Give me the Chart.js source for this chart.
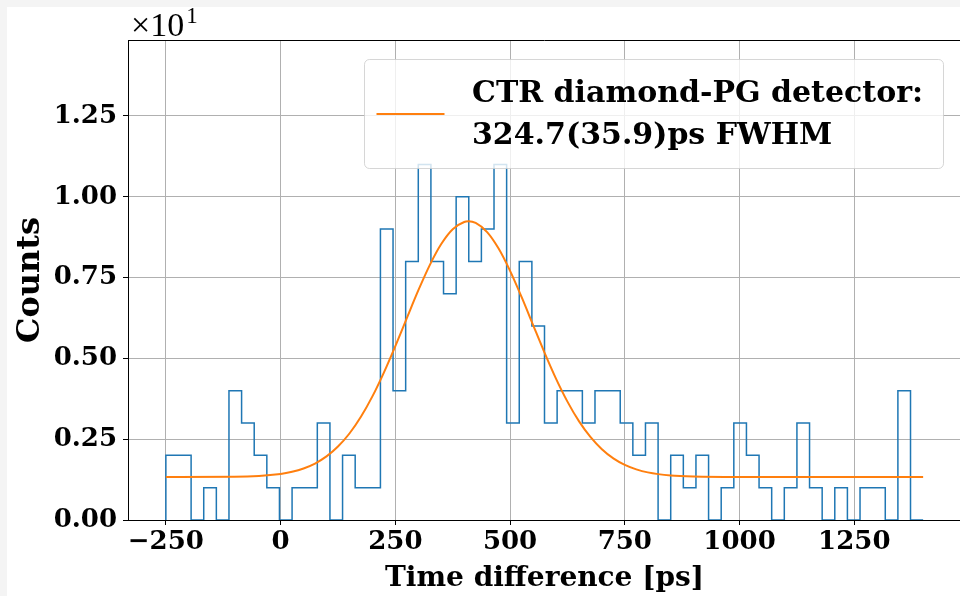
<!DOCTYPE html>
<html>
<head>
<meta charset="utf-8">
<script src="https://cdn.jsdelivr.net/npm/chart.js@4.4.1/dist/chart.umd.min.js"></script>
<style>
  html, body { margin: 0; padding: 0; width: 960px; height: 596px; overflow: hidden; background: #f4f4f4; }
  #wrap { position: absolute; left: 7px; top: 7px; width: 954px; height: 589px; background: #ffffff; }
  canvas { display: block; }
</style>
</head>
<body>
<div id="wrap"><canvas id="c" width="954" height="589"></canvas></div>
<script>
// ---- data ----
const binEdges = [-250, -222.5, -195, -167.5, -140, -112.5, -85, -57.5, -30, -2.5,
  25, 52.5, 80, 107.5, 135, 162.5, 190, 217.5, 245, 272.5,
  300, 327.5, 355, 382.5, 410, 437.5, 465, 492.5, 520, 547.5,
  575, 602.5, 630, 657.5, 685, 712.5, 740, 767.5, 795, 822.5,
  850, 877.5, 905, 932.5, 960, 987.5, 1015, 1042.5, 1070, 1097.5,
  1125, 1152.5, 1180, 1207.5, 1235, 1262.5, 1290, 1317.5, 1345, 1372.5, 1400];
const counts = [2, 2, 0, 1, 0, 4, 3, 2, 1, 0,
  1, 1, 3, 0, 2, 1, 1, 9, 4, 8,
  11, 8, 7, 10, 8, 9, 11, 3, 8, 6,
  3, 4, 4, 3, 4, 4, 3, 2, 3, 0,
  2, 1, 2, 0, 1, 3, 2, 1, 0, 1,
  3, 1, 0, 1, 0, 1, 1, 0, 4, 0];
const fitX = [-250, -100, 0, 25, 50, 75, 100, 125, 150, 175, 200, 225, 250, 275, 300, 325, 350, 375, 400, 409.5,
  425, 450, 475, 500, 525, 550, 575, 600, 625, 650, 675, 700, 725, 750, 775, 800, 850, 900, 1000, 1400];
const fitY = [1.33, 1.339, 1.426, 1.492, 1.595, 1.747, 1.967, 2.272, 2.676, 3.193, 3.825, 4.562, 5.382, 6.245, 7.101, 7.886, 8.537, 8.996, 9.221, 9.24,
  9.190, 8.906, 8.396, 7.707, 6.900, 6.037, 5.180, 4.376, 3.663, 3.058, 2.570, 2.190, 1.907, 1.705, 1.566, 1.473, 1.378, 1.344, 1.331, 1.33];
const xTicks = [-250, 0, 250, 500, 750, 1000, 1250];
const xTickLabels = ['\u2212250', '0', '250', '500', '750', '1000', '1250'];
const yTicks = [0, 2.5, 5, 7.5, 10, 12.5];
const yTickLabels = ['0.00', '0.25', '0.50', '0.75', '1.00', '1.25'];
const legendLines = ['CTR diamond-PG detector:', '324.7(35.9)ps FWHM'];
const xTitle = 'Time difference [ps]';
const yTitle = 'Counts';

// ---- build datasets ----
const histPts = [{ x: binEdges[0], y: 0 }];
for (let i = 0; i < counts.length; i++) {
  histPts.push({ x: binEdges[i], y: counts[i] });
  histPts.push({ x: binEdges[i + 1], y: counts[i] });
}
histPts.push({ x: binEdges[binEdges.length - 1], y: 0 });
const fitPts = fitX.map((x, i) => ({ x: x, y: fitY[i] }));

const BOLD = "'DejaVu Serif', serif";

const extras = {
  id: 'extras',
  afterDraw(chart) {
    const ctx = chart.ctx;
    const a = chart.chartArea;
    ctx.save();
    // top spine
    ctx.strokeStyle = '#000';
    ctx.lineWidth = 1;
    ctx.beginPath();
    ctx.moveTo(a.left, Math.round(a.top) + 0.5);
    ctx.lineTo(a.right, Math.round(a.top) + 0.5);
    ctx.stroke();
    // offset text x10^1
    ctx.fillStyle = '#000';
    ctx.textBaseline = 'alphabetic';
    ctx.textAlign = 'left';
    ctx.font = "34px 'Liberation Serif', serif";
    ctx.fillText('\u00d710', 124, 29);
    const w = ctx.measureText('\u00d710').width;
    ctx.font = "23px 'Liberation Serif', serif";
    ctx.fillText('1', 124 + w + 2, 16);
    // legend
    const lx = 357.5, ly = 52.5, lw = 579, lh = 109;
    ctx.beginPath();
    ctx.roundRect(lx, ly, lw, lh, 5);
    ctx.fillStyle = 'rgba(255,255,255,0.8)';
    ctx.fill();
    ctx.strokeStyle = 'rgba(204,204,204,0.8)';
    ctx.lineWidth = 1;
    ctx.stroke();
    ctx.strokeStyle = '#ff7f0e';
    ctx.lineWidth = 2;
    ctx.beginPath();
    ctx.moveTo(369.5, 107);
    ctx.lineTo(437.5, 107);
    ctx.stroke();
    ctx.fillStyle = '#000';
    ctx.font = "bold 30px " + BOLD;
    ctx.fillText(legendLines[0], 465, 95);
    ctx.fillText(legendLines[1], 465, 137);
    ctx.restore();
  }
};

new Chart(document.getElementById('c'), {
  type: 'scatter',
  data: {
    datasets: [
      { label: 'fit', data: fitPts, showLine: true, borderColor: '#ff7f0e', backgroundColor: '#ff7f0e',
        borderWidth: 2, pointRadius: 0, fill: false, cubicInterpolationMode: 'monotone', order: 0 },
      { label: 'hist', data: histPts, showLine: true, borderColor: '#1f77b4', backgroundColor: '#1f77b4',
        borderWidth: 1.5, pointRadius: 0, fill: false, tension: 0, order: 1 }
    ]
  },
  options: {
    responsive: false,
    animation: false,
    devicePixelRatio: 1,
    layout: { padding: { top: 33, left: 0, right: 0, bottom: 0 } },
    plugins: { legend: { display: false }, tooltip: { enabled: false } },
    scales: {
      x: {
        type: 'linear',
        min: -332.5,
        max: 1482.5,
        afterBuildTicks: s => { s.ticks = xTicks.map(v => ({ value: v })); },
        afterFit: s => { s.height = 76; },
        ticks: {
          autoSkip: false, maxRotation: 0, color: '#000', padding: 2,
          font: { family: BOLD, weight: 'bold', size: 26 },
          callback: (v, i) => xTickLabels[i]
        },
        grid: { color: '#b0b0b0', lineWidth: 1, tickLength: 5, tickColor: '#000', tickWidth: 1 },
        border: { display: true, color: '#000', width: 1 },
        title: { display: true, text: xTitle, color: '#000',
          font: { family: BOLD, weight: 'bold', size: 28, lineHeight: 1 }, padding: { top: 0, bottom: 3 } }
      },
      y: {
        type: 'linear',
        min: 0,
        max: 14.85,
        afterBuildTicks: s => { s.ticks = yTicks.map(v => ({ value: v })); },
        afterFit: s => { s.width = 121; },
        ticks: {
          color: '#000', padding: 6,
          font: { family: BOLD, weight: 'bold', size: 26 },
          callback: (v, i) => yTickLabels[i]
        },
        grid: { color: '#b0b0b0', lineWidth: 1, tickLength: 5, tickColor: '#000', tickWidth: 1 },
        border: { display: true, color: '#000', width: 1 },
        title: { display: true, text: yTitle, color: '#000',
          font: { family: BOLD, weight: 'bold', size: 32, lineHeight: 1 }, padding: { top: 8, bottom: 0 } }
      }
    }
  },
  plugins: [extras]
});
</script>
</body>
</html>
